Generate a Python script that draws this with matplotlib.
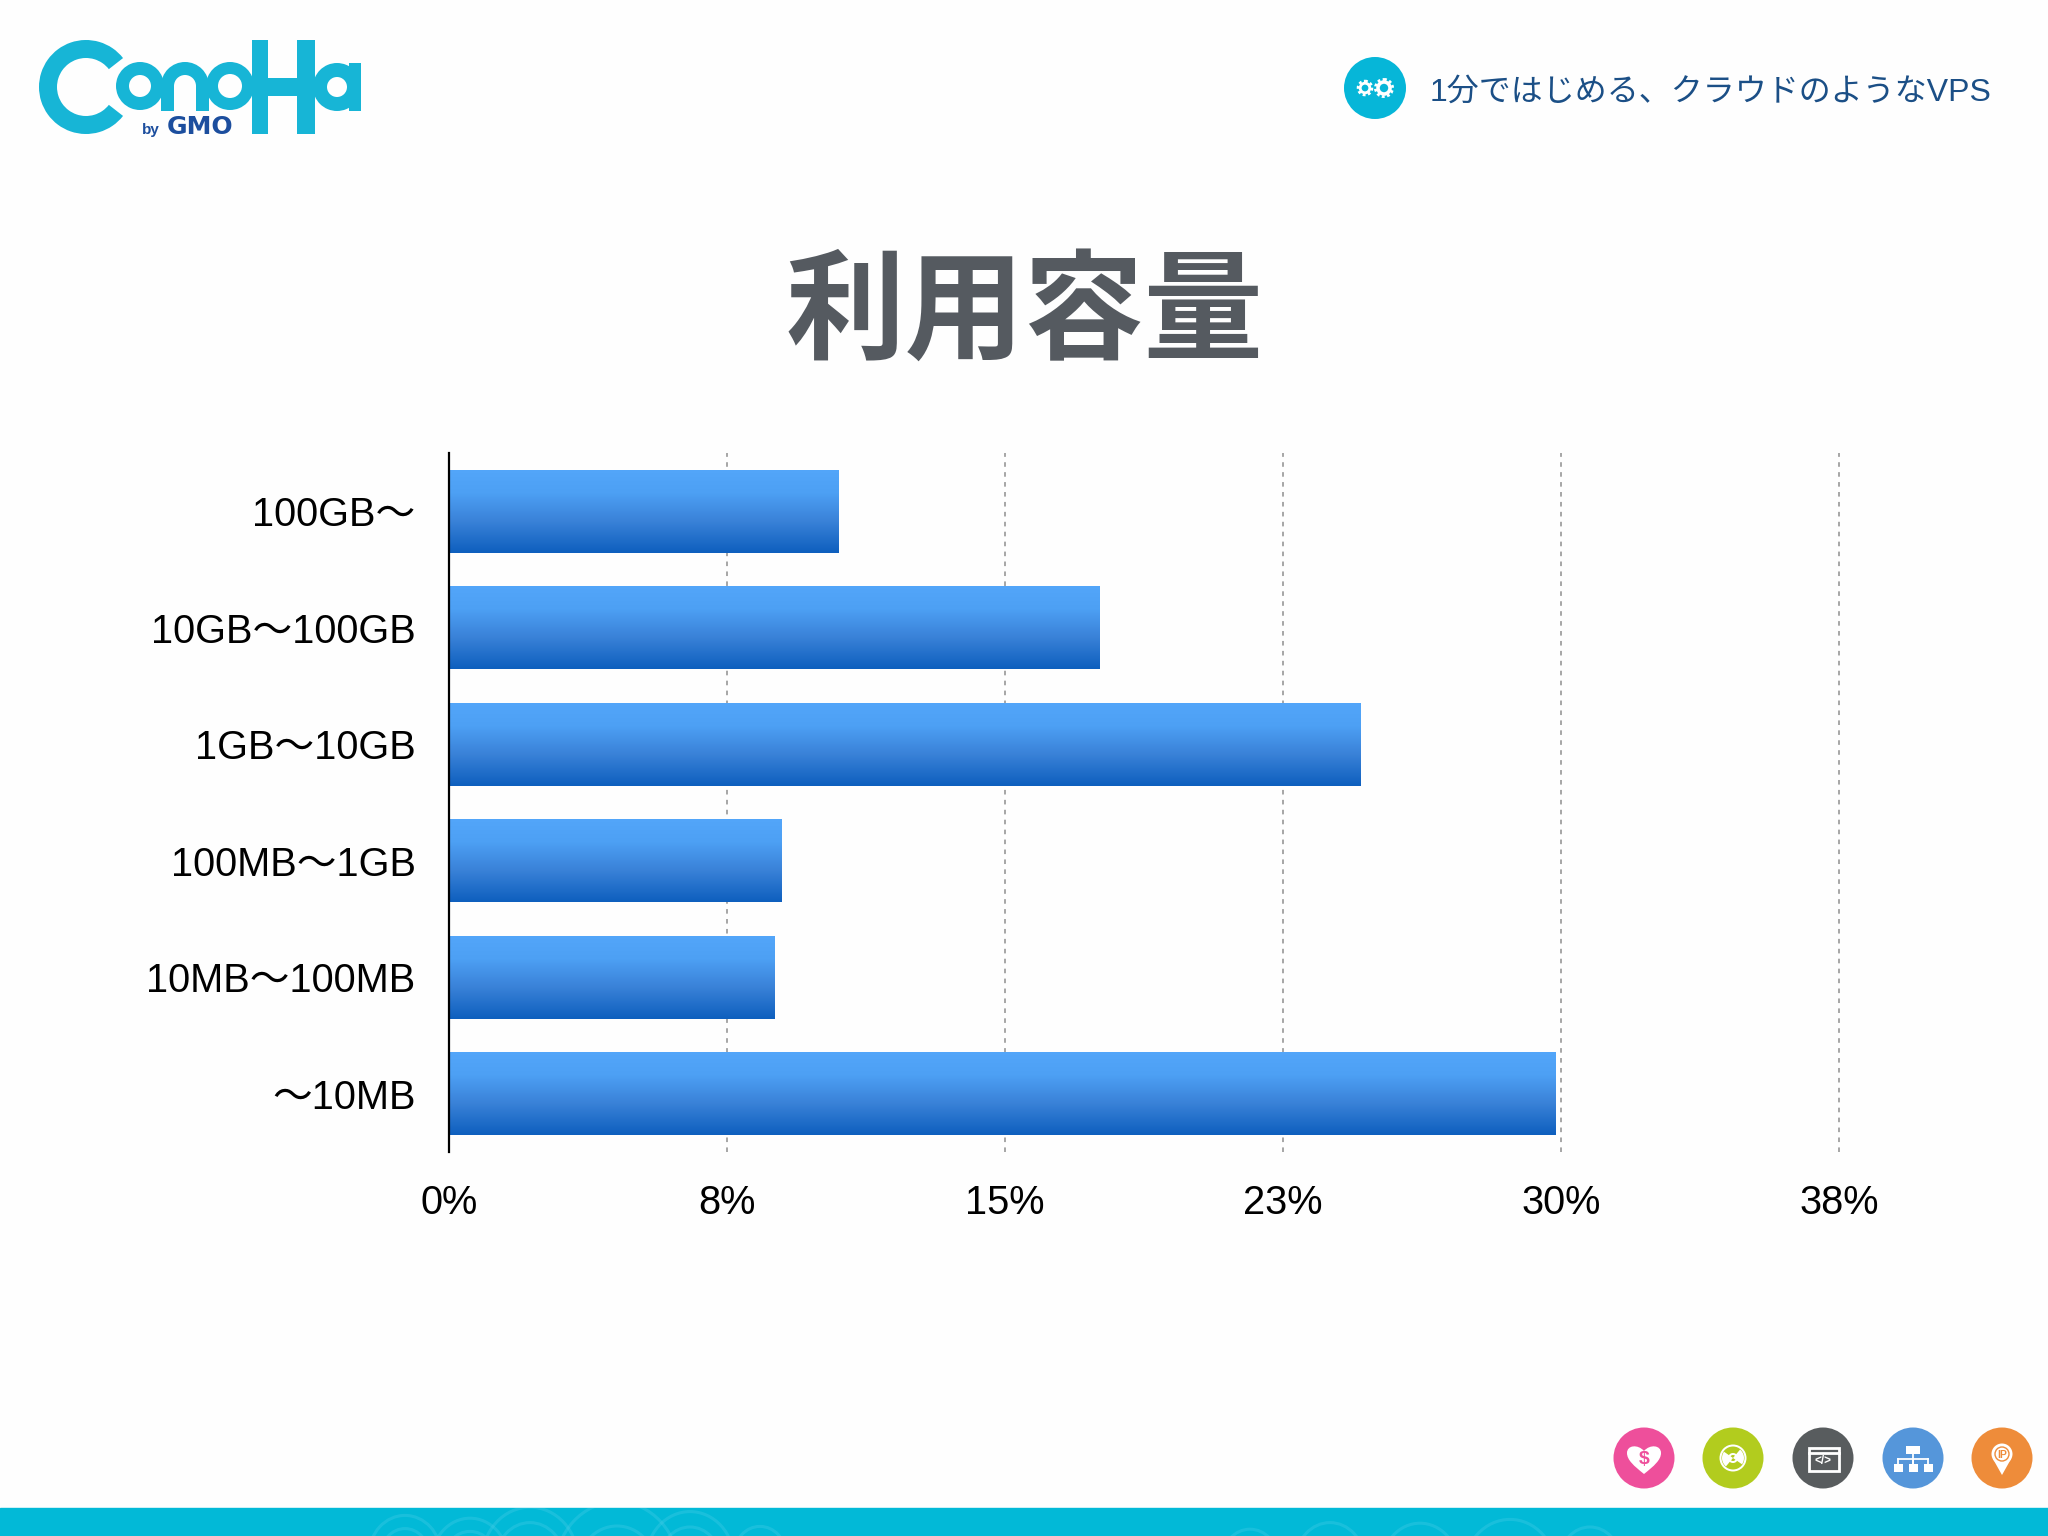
import numpy as np
import matplotlib
matplotlib.use("Agg")
import matplotlib.pyplot as plt
from matplotlib.patches import Circle, Wedge, Rectangle, PathPatch, Ellipse, Polygon
from matplotlib.path import Path
from matplotlib.colors import LinearSegmentedColormap

# ---- data ----
categories = ["100GB～", "10GB～100GB", "1GB～10GB", "100MB～1GB", "10MB～100MB", "～10MB"]
shares = [10.52, 17.56, 24.6, 8.96, 8.78, 29.85]
tick_values = [0, 7.5, 15, 22.5, 30, 37.5]
tick_labels = ["0%", "8%", "15%", "23%", "30%", "38%"]
title_text = "利用容量"
tagline_text = "1分ではじめる、クラウドのようなVPS"

LATIN_CJK = ["Liberation Sans", "Noto Sans CJK JP"]
plt.rcParams["font.family"] = LATIN_CJK

W, H = 2048, 1536
fig = plt.figure(figsize=(W / 100, H / 100), dpi=100, facecolor="#FEFEFE")

# ---- page layer in pixel coordinates ----
pg = fig.add_axes([0, 0, 1, 1], zorder=0)
pg.set_xlim(0, W)
pg.set_ylim(H, 0)
pg.axis("off")

# footer band + faint watermark
BAND = "#02B9D7"
band = Rectangle((0, 1508), W, 28, color=BAND, zorder=1)
pg.add_patch(band)
for cx, cy, radii in [(405, 1555, (12, 24, 36)), (470, 1560, (14, 26, 38)), (530, 1560, (20, 34, 48)),
                      (617, 1570, (18, 40, 62)), (690, 1560, (16, 30, 44)), (760, 1555, (14, 26)),
                      (1250, 1560, (14, 28)), (1330, 1560, (18, 34)), (1420, 1565, (20, 38)),
                      (1510, 1570, (24, 46)), (1590, 1560, (16, 30))]:
    for r in radii:
        e = Ellipse((cx, cy), 2 * r, 2.2 * r, fill=False, ec="#45CDE6", lw=2.2, alpha=0.35, zorder=2)
        pg.add_patch(e)
        e.set_clip_path(band)

# ConoHa logo shapes
LOGO = "#17B5D6"
def ring(cx, cy, ro, ri, t1=0, t2=360):
    pg.add_patch(Wedge((cx, cy), ro, t1, t2, width=ro - ri, color=LOGO, lw=0, zorder=3))
def box(x0, y0, x1, y1):
    pg.add_patch(Rectangle((x0, y0), x1 - x0, y1 - y0, color=LOGO, lw=0, zorder=3))

ring(86, 87, 47, 29, 38, 322)
ring(140, 86, 24, 11)
ring(185, 86, 24, 11, 180, 360)
box(161, 86, 174, 111)
box(196, 86, 209, 111)
ring(230, 86, 24, 12)
box(252, 40, 268, 134)
box(297, 40, 315, 134)
box(260, 78, 305, 96)
ring(337, 87, 24, 10)
box(349, 63, 361, 111)
pg.text(151, 130, "by", color="#1C4E9E", fontsize=11, fontweight="bold", ha="center", va="center")
pg.text(200, 127, "GMO", color="#1C4E9E", fontsize=18, fontweight="bold", family="DejaVu Sans",
        ha="center", va="center")

# tagline with gear badge
BADGE = "#06B6D8"
pg.add_patch(Circle((1375, 88), 31, color=BADGE, lw=0, zorder=3))
for gx, gr in [(1365, 8), (1384, 10)]:
    pg.add_patch(Circle((gx, 88), gr * 0.78, color="white", lw=0, zorder=4))
    pg.add_patch(Circle((gx, 88), gr * 0.86, fc="none", ec="white", lw=2.0, ls=(0, (1.0, 0.9)), zorder=4))
    pg.add_patch(Circle((gx, 88), gr * 0.42, color=BADGE, lw=0, zorder=5))
pg.text(1430, 93, tagline_text, color="#1B4F86", fontsize=23, ha="left", va="center")

# title
pg.text(1025, 315, title_text, color="#555A60", fontsize=86, fontweight="bold",
        family="Noto Sans CJK JP", ha="center", va="center")

# footer icons
ICY = 1458
ICR = 30.5
icon_x = [1644, 1733, 1823, 1913, 2002]
icon_c = ["#EE4F9B", "#B2CC1E", "#585C5E", "#5596DA", "#EE8C3A"]
for x, c in zip(icon_x, icon_c):
    pg.add_patch(Circle((x, ICY), ICR, color=c, lw=0, zorder=3))

# heart
x = icon_x[0]
heart = Path([(x, 1474), (x - 10, 1466), (x - 17, 1460), (x - 17, 1453), (x - 17, 1445), (x - 6, 1444), (x, 1451),
              (x + 6, 1444), (x + 17, 1445), (x + 17, 1453), (x + 17, 1460), (x + 10, 1466), (x, 1474)],
             [Path.MOVETO] + [Path.CURVE4] * 12)
pg.add_patch(PathPatch(heart, fc="white", ec="none", zorder=4))
pg.text(x, 1459, "$", color=icon_c[0], fontsize=14, fontweight="bold", ha="center", va="center", zorder=5)

# disc
x = icon_x[1]
pg.add_patch(Wedge((x, ICY), 13.5, 0, 360, width=2, color="white", lw=0, zorder=4))
pg.add_patch(Wedge((x, ICY), 11, 130, 215, color="white", lw=0, zorder=4))
pg.add_patch(Wedge((x, ICY), 11, 310, 395, color="white", lw=0, zorder=4))
pg.add_patch(Wedge((x, ICY), 5, 0, 360, width=2, color="white", lw=0, zorder=5))

# browser window
x = icon_x[2]
pg.add_patch(Rectangle((x - 14.5, 1448), 30, 23, fc="none", ec="white", lw=2.0, zorder=4))
pg.plot([x - 14.5, x + 15.5], [1452.5, 1452.5], color="white", lw=2.0, zorder=4)
pg.text(x, 1461.5, "</>", color="white", fontsize=8.5, fontweight="bold", ha="center", va="center", zorder=5)

# network
x = icon_x[3]
pg.add_patch(Rectangle((x - 7, 1446), 14, 8, color="white", lw=0, zorder=4))
pg.plot([x, x], [1454, 1464], color="white", lw=1.3, zorder=4)
pg.plot([x - 15, x + 15], [1459, 1459], color="white", lw=1.3, zorder=4)
for dx in (-15, 0, 15):
    pg.plot([x + dx, x + dx], [1459, 1464], color="white", lw=1.3, zorder=4)
    pg.add_patch(Rectangle((x + dx - 4.5, 1464), 9, 8, color="white", lw=0, zorder=4))

# pin
x = icon_x[4]
pg.add_patch(Circle((x, 1454), 10.5, color="white", lw=0, zorder=4))
pg.add_patch(Polygon([(x - 9, 1459), (x + 9, 1459), (x, 1475)], color="white", lw=0, zorder=4))
pg.add_patch(Circle((x, 1454), 7, fc="none", ec=icon_c[4], lw=1, zorder=5))
pg.text(x, 1454.5, "IP", color=icon_c[4], fontsize=7.5, fontweight="bold", ha="center", va="center", zorder=6)

# ---- chart ----
AX_L, AX_R, AX_T, AX_B = 449, 1845, 453, 1152
PX_PER_UNIT = 1390 / tick_values[-1]
ax = fig.add_axes([AX_L / W, 1 - AX_B / H, (AX_R - AX_L) / W, (AX_B - AX_T) / H], zorder=2)
ax.patch.set_alpha(0)

ypos = np.arange(len(categories)) + 0.5
bars = ax.barh(ypos, shares, height=0.715, color="#3A82D8", lw=0, zorder=3)

cmap = LinearSegmentedColormap.from_list(
    "bar", [(0, "#53A6FA"), (0.28, "#4DA0F4"), (0.62, "#3A82D8"), (1, "#0E5FBE")])
grad = np.linspace(0, 1, 128).reshape(-1, 1)
for rect in bars:
    x0, y0, w, h = rect.get_x(), rect.get_y(), rect.get_width(), rect.get_height()
    im = ax.imshow(grad, cmap=cmap, extent=(x0, x0 + w, y0 + h, y0), aspect="auto", zorder=3.5,
                   interpolation="bilinear")
    im.set_clip_path(rect)

ax.set_xlim(0, (AX_R - AX_L) / PX_PER_UNIT)
ax.set_ylim(len(categories), 0)
ax.set_xticks(tick_values, tick_labels)
ax.set_yticks(ypos, categories)
ax.tick_params(axis="both", length=0, labelsize=28.6, colors="black")
ax.tick_params(axis="x", pad=23)
ax.tick_params(axis="y", pad=24)
ax.grid(axis="x", color="#8E8E8E", lw=1.1, ls=(0, (3, 3.5)), zorder=1)
ax.grid(axis="y", visible=False)
ax.set_axisbelow(True)
for s in ("top", "right", "bottom"):
    ax.spines[s].set_visible(False)
ax.spines["left"].set_linewidth(1.6)
ax.spines["left"].set_color("black")
ax.spines["left"].set_zorder(5)

fig.savefig("out.png", dpi=100, facecolor=fig.get_facecolor())
